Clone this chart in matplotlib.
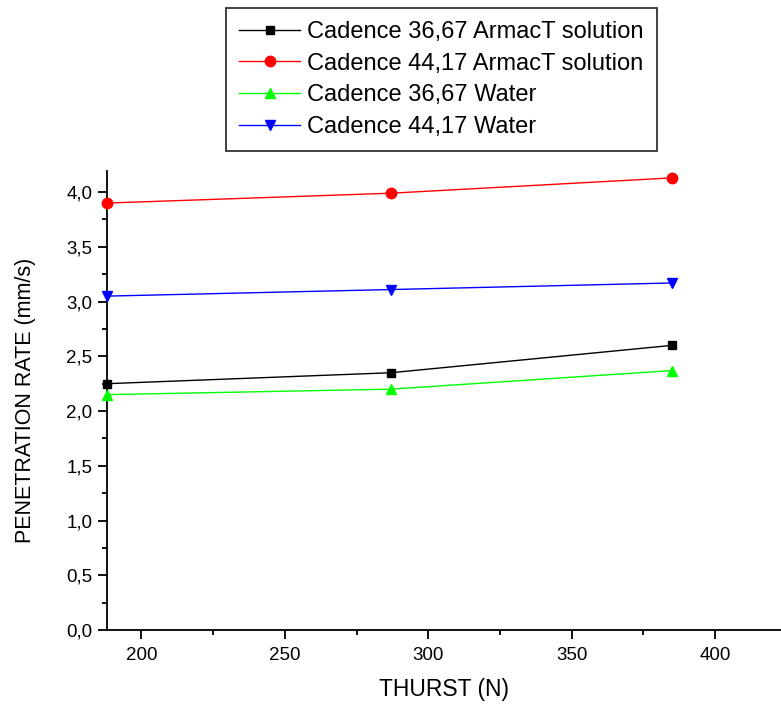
import matplotlib
matplotlib.use("Agg")
import matplotlib.pyplot as plt
from matplotlib.ticker import MultipleLocator, FuncFormatter

plt.rcParams["font.family"] = ["Liberation Sans", "DejaVu Sans"]

thrust = [188, 287, 385]
labels = [
    "Cadence 36,67 ArmacT solution",
    "Cadence 44,17 ArmacT solution",
    "Cadence 36,67 Water",
    "Cadence 44,17 Water",
]
armact_3667 = [2.25, 2.35, 2.60]
armact_4417 = [3.90, 3.99, 4.13]
water_3667 = [2.15, 2.20, 2.37]
water_4417 = [3.05, 3.11, 3.17]

series = [armact_3667, armact_4417, water_3667, water_4417]
colors = ["black", "red", "#00ff00", "blue"]
markers = ["s", "o", "^", "v"]
msizes = [6, 7.5, 7.5, 7.5]

fig = plt.figure(figsize=(7.81, 7.05), dpi=100)
ax = fig.add_axes([0.137, 0.1064, 0.863, 0.6506])

for values, color, marker, ms, label in zip(series, colors, markers, msizes, labels):
    ax.plot(thrust, values, color=color, marker=marker, markersize=ms,
            linewidth=1.0, label=label, clip_on=False, zorder=3)

ax.set_xlim(188, 423)
ax.set_ylim(0, 4.19)
ax.xaxis.set_major_locator(MultipleLocator(50))
ax.xaxis.set_minor_locator(MultipleLocator(25))
ax.yaxis.set_major_locator(MultipleLocator(0.5))
ax.yaxis.set_minor_locator(MultipleLocator(0.25))
ax.yaxis.set_major_formatter(FuncFormatter(lambda v, p: f"{v:.1f}".replace(".", ",")))

for side in ("top", "right"):
    ax.spines[side].set_visible(False)
for side in ("left", "bottom"):
    ax.spines[side].set_linewidth(1.3)
ax.tick_params(which="major", direction="out", length=6.5, width=1.3, labelsize=13.5, pad=4)
ax.tick_params(axis="x", which="major", pad=6)
ax.tick_params(which="minor", direction="out", length=3.6, width=1.3)

ax.set_xlabel("THURST (N)", fontsize=16.5, labelpad=9.5)
ax.set_ylabel("PENETRATION RATE (mm/s)", fontsize=15.5, labelpad=22)

leg = fig.legend(loc="upper left", bbox_to_anchor=(226 / 781, 1 - 8 / 705), fontsize=17,
                 numpoints=1, handlelength=2.6, handletextpad=0.3,
                 labelspacing=0.41, borderpad=0.55, borderaxespad=0,
                 fancybox=False, frameon=True)
leg.get_frame().set_edgecolor("black")
leg.get_frame().set_linewidth(1.3)

fig.savefig("out.png", dpi=100)
